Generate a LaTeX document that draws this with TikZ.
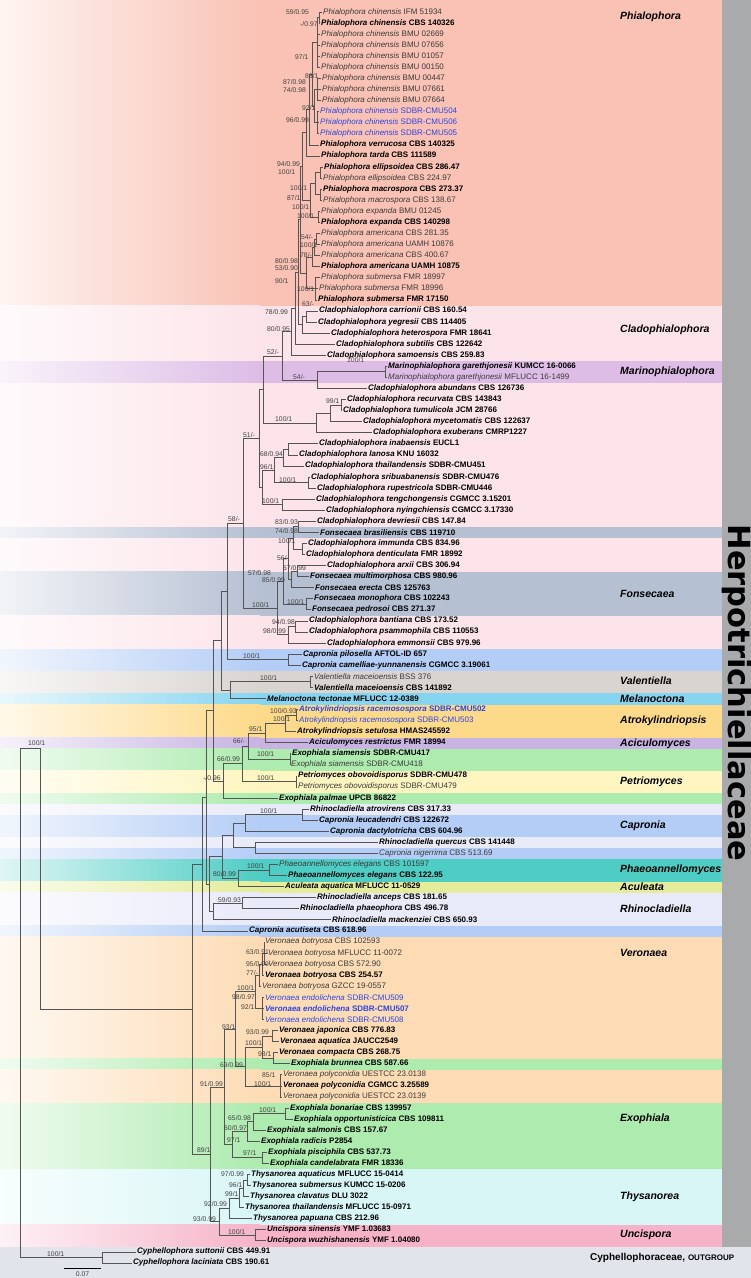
\documentclass[tikz,border=0pt]{standalone}
\usepackage{fontspec}
\setmainfont{Liberation Sans}
\newfontfamily\famfont{DejaVu Sans}
\usetikzlibrary{calc}
\definecolor{cPhi}{HTML}{F9C2B5}
\definecolor{cCla}{HTML}{FCE4EA}
\definecolor{cMar}{HTML}{DDBDE6}
\definecolor{cFon}{HTML}{B6C0D3}
\definecolor{cCap}{HTML}{B4CDF6}
\definecolor{cVal}{HTML}{D9D4D0}
\definecolor{cMel}{HTML}{86D5F0}
\definecolor{cAtr}{HTML}{FDDA8A}
\definecolor{cAci}{HTML}{C8B3E3}
\definecolor{cExo}{HTML}{ADEBAE}
\definecolor{cPet}{HTML}{FFF5C0}
\definecolor{cRhi}{HTML}{E9EAF9}
\definecolor{cPha}{HTML}{4ECDC4}
\definecolor{cAcu}{HTML}{E5EC9B}
\definecolor{cVer}{HTML}{FDDCB5}
\definecolor{cThy}{HTML}{D8F6F6}
\definecolor{cUnc}{HTML}{F6B3C8}
\definecolor{cOut}{HTML}{E1E4EA}
\definecolor{cBar}{HTML}{A8AAAC}
\definecolor{brc}{HTML}{555555}
\definecolor{bsc}{HTML}{404040}
\definecolor{plc}{HTML}{3A3A3A}
\definecolor{nbl}{HTML}{2B45E0}
\newcommand\pl[2]{{\color{plc}\textit{#1} #2}}
\newcommand\ty[2]{\textbf{\textit{#1} #2}}
\newcommand\bl[2]{{\color{nbl}\textit{#1} #2}}
\newcommand\bty[2]{{\color{nbl}\textbf{\textit{#1} #2}}}
\newcommand\lf[3]{\node[leaf] (L#1) at ({#2-1},{-(11.07*#1+0.93)}) {#3};}
\newcommand\nd[4]{\path let \p1=(#3), \p2=(#4) in coordinate (#1) at (#2pt,{0.5*\y1+0.5*\y2});}
\newcommand\cl[2]{\foreach \i in {#2} {\draw[br] (#1) |- (L\i.west);}}
\newcommand\cn[2]{\foreach \i in {#2} {\draw[br] (#1) |- (\i);}}
\newcommand\band[3]{%
  \ifnum#2=1 \def\yt{0.5}\else\pgfmathsetmacro\yt{-(11.07*(#2-0.416)+0.93)+0.3}\fi
  \pgfmathsetmacro\yb{-(11.07*(#3+0.584)+0.93)-0.3}%
  \shade[left color=#1!18!white, right color=#1] (0,\yt) rectangle (260,\yb);
  \fill[#1] (259.5,\yt) rectangle (722,\yb);}
\newcounter{bsn}
\newcommand\bs[3]{\stepcounter{bsn}\node[bsl] (bs\arabic{bsn}) at (#1,-#2) {#3};}
\begin{document}
\begin{tikzpicture}[x=1pt,y=1pt,
  br/.style={draw=brc, line width=0.6pt},
  leaf/.style={anchor=west, inner xsep=1pt, inner ysep=0pt, font=\fontsize{8}{9}\selectfont},
  bsl/.style={anchor=west, inner sep=0pt, text=bsc, font=\fontsize{6.8}{7}\selectfont},
  clade/.style={anchor=west, inner sep=0pt, font=\fontsize{10.5}{12}\selectfont\bfseries\itshape}]
\useasboundingbox (0,0) rectangle (751,-1278);
% background bands
\band{cPhi}{1}{27}
\band{cCla}{28}{32}
\band{cMar}{33}{34}
\band{cCla}{35}{47}
\band{cFon}{48}{48}
\band{cCla}{49}{51}
\band{cFon}{52}{55}
\band{cCla}{56}{58}
\band{cCap}{59}{60}
\band{cVal}{61}{62}
\band{cMel}{63}{63}
\band{cAtr}{64}{66}
\band{cAci}{67}{67}
\band{cExo}{68}{69}
\band{cPet}{70}{71}
\band{cExo}{72}{72}
\band{cRhi}{73}{73}
\band{cCap}{74}{75}
\band{cRhi}{76}{76}
\band{cCap}{77}{77}
\band{cPha}{78}{79}
\band{cAcu}{80}{80}
\band{cRhi}{81}{83}
\band{cCap}{84}{84}
\band{cVer}{85}{95}
\band{cExo}{96}{96}
\band{cVer}{97}{99}
\band{cExo}{100}{105}
\band{cThy}{106}{110}
\band{cUnc}{111}{112}
\pgfmathsetmacro\yo{-(11.07*112.584+0.93)}
\fill[cOut] (0,\yo) rectangle (751,-1278);
\fill[cBar] (722,0.5) rectangle (751,\yo);
\node[rotate=-90, inner sep=0pt, font=\famfont\fontsize{30.5}{32}\selectfont\bfseries] (fam) at (736.5,-693) {Herpotrichiellaceae};
% leaves
\lf{1}{323}{\pl{Phialophora chinensis}{IFM 51934}}
\lf{2}{321}{\ty{Phialophora chinensis}{CBS 140326}}
\lf{3}{321}{\pl{Phialophora chinensis}{BMU 02669}}
\lf{4}{321}{\pl{Phialophora chinensis}{BMU 07656}}
\lf{5}{321}{\pl{Phialophora chinensis}{BMU 01057}}
\lf{6}{321}{\pl{Phialophora chinensis}{BMU 00150}}
\lf{7}{322}{\pl{Phialophora chinensis}{BMU 00447}}
\lf{8}{322}{\pl{Phialophora chinensis}{BMU 07661}}
\lf{9}{322}{\pl{Phialophora chinensis}{BMU 07664}}
\lf{10}{320}{\bl{Phialophora chinensis}{SDBR-CMU504}}
\lf{11}{320}{\bl{Phialophora chinensis}{SDBR-CMU506}}
\lf{12}{320}{\bl{Phialophora chinensis}{SDBR-CMU505}}
\lf{13}{320}{\ty{Phialophora verrucosa}{CBS 140325}}
\lf{14}{321}{\ty{Phialophora tarda}{CBS 111589}}
\lf{15}{324}{\ty{Phialophora ellipsoidea}{CBS 286.47}}
\lf{16}{323}{\pl{Phialophora ellipsoidea}{CBS 224.97}}
\lf{17}{323}{\ty{Phialophora macrospora}{CBS 273.37}}
\lf{18}{323}{\pl{Phialophora macrospora}{CBS 138.67}}
\lf{19}{321}{\pl{Phialophora expanda}{BMU 01245}}
\lf{20}{321}{\ty{Phialophora expanda}{CBS 140298}}
\lf{21}{321}{\pl{Phialophora americana}{CBS 281.35}}
\lf{22}{321}{\pl{Phialophora americana}{UAMH 10876}}
\lf{23}{321}{\pl{Phialophora americana}{CBS 400.67}}
\lf{24}{321}{\ty{Phialophora americana}{UAMH 10875}}
\lf{25}{321}{\pl{Phialophora submersa}{FMR 18997}}
\lf{26}{319}{\pl{Phialophora submersa}{FMR 18996}}
\lf{27}{318}{\ty{Phialophora submersa}{FMR 17150}}
\lf{28}{319}{\ty{Cladophialophora carrionii}{CBS 160.54}}
\lf{29}{318}{\ty{Cladophialophora yegresii}{CBS 114405}}
\lf{30}{331}{\ty{Cladophialophora heterospora}{FMR 18641}}
\lf{31}{336}{\ty{Cladophialophora subtilis}{CBS 122642}}
\lf{32}{327}{\ty{Cladophialophora samoensis}{CBS 259.83}}
\lf{33}{388}{\ty{Marinophialophora garethjonesii}{KUMCC 16-0066}}
\lf{34}{388}{\pl{Marinophialophora garethjonesii}{MFLUCC 16-1499}}
\lf{35}{368}{\ty{Cladophialophora abundans}{CBS 126736}}
\lf{36}{347}{\ty{Cladophialophora recurvata}{CBS 143843}}
\lf{37}{343}{\ty{Cladophialophora tumulicola}{JCM 28766}}
\lf{38}{363}{\ty{Cladophialophora mycetomatis}{CBS 122637}}
\lf{39}{373}{\ty{Cladophialophora exuberans}{CMRP1227}}
\lf{40}{319}{\ty{Cladophialophora inabaensis}{EUCL1}}
\lf{41}{299}{\ty{Cladophialophora lanosa}{KNU 16032}}
\lf{42}{305}{\ty{Cladophialophora thailandensis}{SDBR-CMU451}}
\lf{43}{311}{\ty{Cladophialophora sribuabanensis}{SDBR-CMU476}}
\lf{44}{317}{\ty{Cladophialophora rupestricola}{SDBR-CMU446}}
\lf{45}{316}{\ty{Cladophialophora tengchongensis}{CGMCC 3.15201}}
\lf{46}{326}{\ty{Cladophialophora nyingchiensis}{CGMCC 3.17330}}
\lf{47}{317}{\ty{Cladophialophora devriesii}{CBS 147.84}}
\lf{48}{320}{\ty{Fonsecaea brasiliensis}{CBS 119710}}
\lf{49}{308}{\ty{Cladophialophora immunda}{CBS 834.96}}
\lf{50}{306}{\ty{Cladophialophora denticulata}{FMR 18992}}
\lf{51}{327}{\ty{Cladophialophora arxii}{CBS 306.94}}
\lf{52}{310}{\ty{Fonsecaea multimorphosa}{CBS 980.96}}
\lf{53}{315}{\ty{Fonsecaea erecta}{CBS 125763}}
\lf{54}{314}{\ty{Fonsecaea monophora}{CBS 102243}}
\lf{55}{312}{\ty{Fonsecaea pedrosoi}{CBS 271.37}}
\lf{56}{309}{\ty{Cladophialophora bantiana}{CBS 173.52}}
\lf{57}{309}{\ty{Cladophialophora psammophila}{CBS 110553}}
\lf{58}{327}{\ty{Cladophialophora emmonsii}{CBS 979.96}}
\lf{59}{303}{\ty{Capronia pilosella}{AFTOL-ID 657}}
\lf{60}{302}{\ty{Capronia camelliae-yunnanensis}{CGMCC 3.19061}}
\lf{61}{314}{\pl{Valentiella maceioensis}{BSS 376}}
\lf{62}{314}{\ty{Valentiella maceioensis}{CBS 141892}}
\lf{63}{267}{\ty{Melanoctona tectonae}{MFLUCC 12-0389}}
\lf{64}{299}{\bty{Atrokylindriopsis racemosospora}{SDBR-CMU502}}
\lf{65}{299}{\bl{Atrokylindriopsis racemosospora}{SDBR-CMU503}}
\lf{66}{297}{\ty{Atrokylindriopsis setulosa}{HMAS245592}}
\lf{67}{309}{\ty{Aciculomyces restrictus}{FMR 18994}}
\lf{68}{292}{\ty{Exophiala siamensis}{SDBR-CMU417}}
\lf{69}{291}{\pl{Exophiala siamensis}{SDBR-CMU418}}
\lf{70}{298}{\ty{Petriomyces obovoidisporus}{SDBR-CMU478}}
\lf{71}{298}{\pl{Petriomyces obovoidisporus}{SDBR-CMU479}}
\lf{72}{279}{\ty{Exophiala palmae}{UPCB 86822}}
\lf{73}{310}{\ty{Rhinocladiella atrovirens}{CBS 317.33}}
\lf{74}{319}{\ty{Capronia leucadendri}{CBS 122672}}
\lf{75}{330}{\ty{Capronia dactylotricha}{CBS 604.96}}
\lf{76}{379}{\ty{Rhinocladiella quercus}{CBS 141448}}
\lf{77}{379}{\pl{Capronia nigerrima}{CBS 513.69}}
\lf{78}{279}{\pl{Phaeoannellomyces elegans}{CBS 101597}}
\lf{79}{288}{\ty{Phaeoannellomyces elegans}{CBS 122.95}}
\lf{80}{285}{\ty{Aculeata aquatica}{MFLUCC 11-0529}}
\lf{81}{317}{\ty{Rhinocladiella anceps}{CBS 181.65}}
\lf{82}{300}{\ty{Rhinocladiella phaeophora}{CBS 496.78}}
\lf{83}{332}{\ty{Rhinocladiella mackenziei}{CBS 650.93}}
\lf{84}{249}{\ty{Capronia acutiseta}{CBS 618.96}}
\lf{85}{265}{\pl{Veronaea botryosa}{CBS 102593}}
\lf{86}{268}{\pl{Veronaea botryosa}{MFLUCC 11-0072}}
\lf{87}{268}{\pl{Veronaea botryosa}{CBS 572.90}}
\lf{88}{265}{\ty{Veronaea botryosa}{CBS 254.57}}
\lf{89}{262}{\pl{Veronaea botryosa}{GZCC 19-0557}}
\lf{90}{265}{\bl{Veronaea endolichena}{SDBR-CMU509}}
\lf{91}{265}{\bty{Veronaea endolichena}{SDBR-CMU507}}
\lf{92}{265}{\bl{Veronaea endolichena}{SDBR-CMU508}}
\lf{93}{279}{\ty{Veronaea japonica}{CBS 776.83}}
\lf{94}{280}{\ty{Veronaea aquatica}{JAUCC2549}}
\lf{95}{279}{\ty{Veronaea compacta}{CBS 268.75}}
\lf{96}{291}{\ty{Exophiala brunnea}{CBS 587.66}}
\lf{97}{283}{\pl{Veronaea polyconidia}{UESTCC 23.0138}}
\lf{98}{283}{\ty{Veronaea polyconidia}{CGMCC 3.25589}}
\lf{99}{283}{\pl{Veronaea polyconidia}{UESTCC 23.0139}}
\lf{100}{290}{\ty{Exophiala bonariae}{CBS 139957}}
\lf{101}{294}{\ty{Exophiala opportunisticica}{CBS 109811}}
\lf{102}{267}{\ty{Exophiala salmonis}{CBS 157.67}}
\lf{103}{261}{\ty{Exophiala radicis}{P2854}}
\lf{104}{268}{\ty{Exophiala pisciphila}{CBS 537.73}}
\lf{105}{270}{\ty{Exophiala candelabrata}{FMR 18336}}
\lf{106}{251}{\ty{Thysanorea aquaticus}{MFLUCC 15-0414}}
\lf{107}{252}{\ty{Thysanorea submersus}{KUMCC 15-0206}}
\lf{108}{250}{\ty{Thysanorea clavatus}{DLU 3022}}
\lf{109}{245}{\ty{Thysanorea thailandensis}{MFLUCC 15-0971}}
\lf{110}{253}{\ty{Thysanorea papuana}{CBS 212.96}}
\lf{111}{267}{\ty{Uncispora sinensis}{YMF 1.03683}}
\lf{112}{267}{\ty{Uncispora wuzhishanensis}{YMF 1.04080}}
\lf{113}{137}{\ty{Cyphellophora suttonii}{CBS 449.91}}
\lf{114}{133}{\ty{Cyphellophora laciniata}{CBS 190.61}}
% internal nodes and branches
\nd{n1}{319}{L1}{L2} \cl{n1}{1,2}
\nd{n2}{317}{n1}{L6} \cn{n2}{n1} \cl{n2}{3,4,5,6}
\nd{n3}{317}{L7}{L9} \cl{n3}{7,8,9}
\nd{n4}{317}{L10}{L12} \cl{n4}{10,11,12}
\nd{n5}{314}{n3}{n4} \cn{n5}{n3,n4}
\nd{n6}{312}{n2}{n5} \cn{n6}{n2,n5}
\nd{n7}{309}{n6}{L13} \cn{n7}{n6} \cl{n7}{13}
\nd{n8}{306}{n7}{L14} \cn{n8}{n7} \cl{n8}{14}
\nd{n9}{320}{L15}{L16} \cl{n9}{15,16}
\nd{n10}{320}{L17}{L18} \cl{n10}{17,18}
\nd{n11}{315}{n9}{n10} \cn{n11}{n9,n10}
\nd{n12}{318}{L19}{L20} \cl{n12}{19,20}
\nd{n13}{310}{n11}{n12} \cn{n13}{n11,n12}
\nd{n14}{302}{n8}{n13} \cn{n14}{n8,n13}
\nd{n15}{316}{L21}{L22} \cl{n15}{21,22}
\nd{n16}{314}{n15}{L23} \cn{n16}{n15} \cl{n16}{23}
\nd{n17}{312}{n16}{L24} \cn{n17}{n16} \cl{n17}{24}
\nd{n18}{315}{L25}{L27} \cl{n18}{25,26,27}
\nd{n19}{306}{n17}{n18} \cn{n19}{n17,n18}
\nd{n20}{300}{n14}{n19} \cn{n20}{n14,n19}
\nd{c1}{306}{L28}{L29} \cl{c1}{28,29}
\nd{c2}{302}{c1}{L30} \cn{c2}{c1} \cl{c2}{30}
\nd{q1}{298}{n20}{c2} \cn{q1}{n20,c2}
\nd{q2}{295}{q1}{L31} \cn{q2}{q1} \cl{q2}{31}
\nd{q3}{291}{q2}{L32} \cn{q3}{q2} \cl{q3}{32}
\nd{m1}{385}{L33}{L34} \cl{m1}{33,34}
\nd{m2}{317}{m1}{L35} \cn{m2}{m1} \cl{m2}{35}
\nd{F}{282}{q3}{m2} \cn{F}{q3,m2}
\nd{a1}{341}{L36}{L37} \cl{a1}{36,37}
\nd{a2}{330}{a1}{L38} \cn{a2}{a1} \cl{a2}{38}
\nd{a3}{316}{a2}{L39} \cn{a3}{a2} \cl{a3}{39}
\nd{Y}{263}{F}{a3} \cn{Y}{F,a3}
\nd{b1}{288}{L40}{L41} \cl{b1}{40,41}
\nd{b2}{283}{b1}{L42} \cn{b2}{b1} \cl{b2}{42}
\nd{b3}{308}{L43}{L44} \cl{b3}{43,44}
\nd{b4}{274}{b2}{b3} \cn{b4}{b2,b3}
\nd{b5}{282}{L45}{L46} \cl{b5}{45,46}
\nd{b6}{262}{b4}{b5} \cn{b6}{b4,b5}
\nd{Z}{259}{Y}{b6} \cn{Z}{Y,b6}
\nd{f1}{298}{L47}{L48} \cl{f1}{47,48}
\nd{f2}{302}{L49}{L50} \cl{f2}{49,50}
\nd{g1}{293}{f1}{f2} \cn{g1}{f1,f2}
\nd{f3}{297}{L51}{L52} \cl{f3}{51,52}
\nd{f4}{291}{f3}{L53} \cn{f4}{f3} \cl{f4}{53}
\nd{g2}{288}{g1}{f4} \cn{g2}{g1,f4}
\nd{f6}{306}{L54}{L55} \cl{f6}{54,55}
\nd{g3}{283}{g2}{f6} \cn{g3}{g2,f6}
\nd{h1}{295}{L56}{L57} \cl{h1}{56,57}
\nd{h2}{288}{h1}{L58} \cn{h2}{h1} \cl{h2}{58}
\nd{g4}{277}{g3}{h2} \cn{g4}{g3,h2}
\nd{V}{243}{Z}{g4} \cn{V}{Z,g4}
\nd{cp}{288}{L59}{L60} \cl{cp}{59,60}
\nd{T}{227}{V}{cp} \cn{T}{V,cp}
\nd{val}{310}{L61}{L62} \cl{val}{61,62}
\nd{VM}{230}{val}{L63} \cn{VM}{val} \cl{VM}{63}
\nd{W}{221}{T}{VM} \cn{W}{T,VM}
\nd{ax1}{296}{L64}{L65} \cl{ax1}{64,65}
\nd{ax2}{285}{ax1}{L66} \cn{ax2}{ax1} \cl{ax2}{66}
\nd{ax3}{265}{ax2}{L67} \cn{ax3}{ax2} \cl{ax3}{67}
\nd{s1}{290}{L68}{L69} \cl{s1}{68,69}
\nd{e1}{248}{ax3}{s1} \cn{e1}{ax3,s1}
\nd{pt}{296}{L70}{L71} \cl{pt}{70,71}
\nd{e2}{242}{e1}{pt} \cn{e2}{e1,pt}
\nd{e3}{223}{e2}{L72} \cn{e3}{e2} \cl{e3}{72}
\nd{S}{213}{W}{e3} \cn{S}{W,e3}
\nd{r1}{302}{L73}{L74} \cl{r1}{73,74}
\nd{r2}{245}{r1}{L75} \cn{r2}{r1} \cl{r2}{75}
\nd{r3}{255}{L76}{L77} \cl{r3}{76,77}
\nd{r4}{233}{r2}{r3} \cn{r4}{r2,r3}
\nd{p1}{269}{L78}{L79} \cl{p1}{78,79}
\nd{p2}{238}{p1}{L80} \cn{p2}{p1} \cl{p2}{80}
\nd{p3}{222}{r4}{p2} \cn{p3}{r4,p2}
\nd{rh1}{242}{L81}{L82} \cl{rh1}{81,82}
\nd{rh2}{213}{rh1}{L83} \cn{rh2}{rh1} \cl{rh2}{83}
\nd{p4}{209}{p3}{rh2} \cn{p4}{p3,rh2}
\nd{X}{206}{S}{p4} \cn{X}{S,p4}
\nd{Q}{202}{X}{L84} \cn{Q}{X} \cl{Q}{84}
\nd{v1}{264}{L85}{L87} \cl{v1}{85,86,87}
\nd{v2}{262}{v1}{L88} \cn{v2}{v1} \cl{v2}{88}
\nd{v3}{259}{v2}{L89} \cn{v3}{v2} \cl{v3}{89}
\nd{v4}{262}{L90}{L92} \cl{v4}{90,91,92}
\nd{v5}{255}{v3}{v4} \cn{v5}{v3,v4}
\nd{vj1}{272}{L93}{L94} \cl{vj1}{93,94}
\nd{vc1}{273}{L95}{L96} \cl{vc1}{95,96}
\nd{vj2}{262}{vj1}{vc1} \cn{vj2}{vj1,vc1}
\nd{vp}{280}{L97}{L99} \cl{vp}{97,98,99}
\nd{vj3}{245}{vj2}{vp} \cn{vj3}{vj2,vp}
\nd{v6}{235}{v5}{vj3} \cn{v6}{v5,vj3}
\nd{x1}{285}{L100}{L101} \cl{x1}{100,101}
\nd{x2}{253}{x1}{L102} \cn{x2}{x1} \cl{x2}{102}
\nd{x3}{247}{x2}{L103} \cn{x3}{x2} \cl{x3}{103}
\nd{x4}{262}{L104}{L105} \cl{x4}{104,105}
\nd{x5}{232}{x3}{x4} \cn{x5}{x3,x4}
\nd{LCa}{224}{v6}{x5} \cn{LCa}{v6,x5}
\nd{t1}{247}{L106}{L107} \cl{t1}{106,107}
\nd{t2}{243}{t1}{L108} \cn{t2}{t1} \cl{t2}{108}
\nd{t3}{239}{t2}{L109} \cn{t3}{t2} \cl{t3}{109}
\nd{t4}{229}{t3}{L110} \cn{t4}{t3} \cl{t4}{110}
\nd{u1}{255}{L111}{L112} \cl{u1}{111,112}
\nd{t5}{219}{t4}{u1} \cn{t5}{t4,u1}
\nd{LCb}{210}{LCa}{t5} \cn{LCb}{LCa,t5}
\nd{K}{192}{Q}{LCb} \cn{K}{Q,LCb}
\coordinate (I) at (40,-748); \cn{I}{K}
\nd{O}{102}{L113}{L114} \cl{O}{113,114}
\nd{R}{20}{I}{O} \cn{R}{I,O}
% support values
\bs{286}{12}{59/0.95}
\bs{300}{24}{-/0.97}
\bs{295}{57}{97/1}
\bs{305}{76}{86/1}
\bs{283}{82}{87/0.98}
\bs{283}{90}{74/0.98}
\bs{302}{108}{92/1}
\bs{286}{120}{96/0.99}
\bs{277}{164}{94/0.99}
\bs{278}{172}{100/1}
\bs{290}{188}{100/1}
\bs{287}{198}{87/1}
\bs{292}{207}{100/1}
\bs{297}{216}{100/1}
\bs{301}{237}{54/-}
\bs{300}{245}{100/1}
\bs{300}{255}{78/-}
\bs{275}{261}{80/0.98}
\bs{275}{268}{53/0.90}
\bs{275}{281}{90/1}
\bs{297}{289}{100/1}
\bs{302}{304}{63/-}
\bs{265}{312}{78/0.99}
\bs{267}{329}{80/0.95}
\bs{267}{352}{52/-}
\bs{347}{360}{100/1}
\bs{293}{377}{54/-}
\bs{326}{401}{99/1}
\bs{275}{419}{100/1}
\bs{243}{435}{51/-}
\bs{260}{454}{68/0.94}
\bs{260}{467}{96/1}
\bs{279}{480}{100/1}
\bs{262}{501}{100/1}
\bs{228}{519}{58/-}
\bs{275}{522}{83/0.93}
\bs{275}{531}{74/0.98}
\bs{278}{541}{100/1}
\bs{277}{558}{56/-}
\bs{283}{568}{67/0.99}
\bs{248}{573}{57/0.98}
\bs{262}{580}{85/0.99}
\bs{287}{602}{100/1}
\bs{252}{605}{100/1}
\bs{272}{622}{94/0.98}
\bs{263}{631}{98/0.99}
\bs{243}{656}{100/1}
\bs{260}{678}{100/1}
\bs{270}{711}{100/0.93}
\bs{273}{719}{100/1}
\bs{249}{729}{95/1}
\bs{233}{741}{66/-}
\bs{257}{754}{100/1}
\bs{217}{759}{66/0.99}
\bs{203}{778}{-/0.96}
\bs{257}{778}{100/1}
\bs{260}{811}{100/1}
\bs{247}{866}{100/1}
\bs{213}{874}{80/0.99}
\bs{218}{900}{59/0.93}
\bs{246}{952}{63/0.91}
\bs{246}{964}{95/0.99}
\bs{246}{973}{77/-}
\bs{237}{988}{100/1}
\bs{232}{997}{98/0.97}
\bs{241}{1007}{92/1}
\bs{222}{1027}{93/1}
\bs{246}{1032}{93/0.99}
\bs{245}{1043}{100/1}
\bs{258}{1054}{98/1}
\bs{220}{1065}{69/0.99}
\bs{262}{1075}{85/1}
\bs{200}{1084}{91/0.99}
\bs{254}{1084}{100/1}
\bs{259}{1110}{100/1}
\bs{228}{1118}{65/0.98}
\bs{224}{1128}{60/0.97}
\bs{227}{1140}{97/1}
\bs{197}{1150}{89/1}
\bs{243}{1153}{97/1}
\bs{221}{1174}{97/0.99}
\bs{229}{1185}{96/1}
\bs{225}{1194}{99/1}
\bs{204}{1204}{92/0.99}
\bs{193}{1219}{93/0.99}
\bs{228}{1232}{100/1}
\bs{47}{1254}{100/1}
\bs{28}{743}{100/1}
% scale bar
\coordinate (sb1) at (64,-1268);
\coordinate (sb2) at (101,-1268);
\draw[line width=0.8pt] (sb1) -- (sb2);
\node[bsl, anchor=center] (sbl) at (82.5,-1274) {0.07};
% clade names
\node[clade] (kPhi) at (620,-17) {Phialophora};
\node[clade] (kCla) at (620,-330) {Cladophialophora};
\node[clade] (kMar) at (620,-372) {Marinophialophora};
\node[clade] (kFon) at (620,-594) {Fonsecaea};
\node[clade] (kVal) at (620,-681) {Valentiella};
\node[clade] (kMel) at (620,-699) {Melanoctona};
\node[clade] (kAtr) at (620,-721) {Atrokylindriopsis};
\node[clade] (kAci) at (620,-744) {Aciculomyces};
\node[clade] (kPet) at (620,-782) {Petriomyces};
\node[clade] (kCap) at (620,-826) {Capronia};
\node[clade] (kPha) at (620,-870) {Phaeoannellomyces};
\node[clade] (kAcu) at (620,-887) {Aculeata};
\node[clade] (kRhi) at (620,-909) {Rhinocladiella};
\node[clade] (kVer) at (620,-953) {Veronaea};
\node[clade] (kExo) at (620,-1119) {Exophiala};
\node[clade] (kThy) at (620,-1197) {Thysanorea};
\node[clade] (kUnc) at (620,-1235) {Uncispora};
\node[anchor=west, inner sep=0pt, font=\fontsize{10}{12}\selectfont\bfseries] (kOut) at (590,-1258) {Cyphellophoraceae, {\fontsize{8}{10}\selectfont OUTGROUP}};
\end{tikzpicture}
\end{document}
